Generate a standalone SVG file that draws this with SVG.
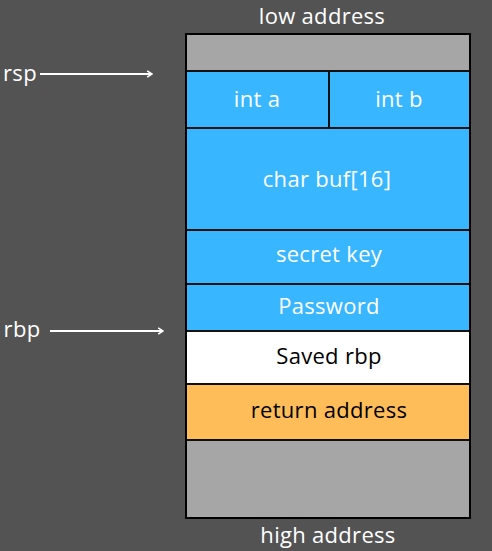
<svg xmlns="http://www.w3.org/2000/svg" width="492" height="551" viewBox="0 0 492 551">
<style>
text{font-family:"Open Sans","Liberation Sans",sans-serif;font-size:22px;font-weight:500;letter-spacing:0.3px;text-anchor:middle}
.w{fill:#ffffff}
.k{fill:#000000}
.cell{stroke:#111;stroke-width:2}
.conn{stroke:#ffffff;stroke-width:2;fill:none}
</style>
<defs>
<marker id="ah" viewBox="0 0 10 10" refX="9" refY="5" markerWidth="8" markerHeight="9" orient="auto" markerUnits="userSpaceOnUse">
<path d="M3,1 L9,5 L3,9" fill="none" stroke="#fff" stroke-width="2"/>
</marker>
</defs>
<rect width="492" height="551" fill="#535353"/>
<text class="w" x="322" y="24" font-size="20.5">low address</text>
<text class="w" x="328" y="543">high address</text>
<g id="top-gray"><rect class="cell" x="186" y="34" width="284" height="37" fill="#a6a6a6"/></g>
<g id="int-a"><rect class="cell" x="186" y="71" width="143" height="57" fill="#38b6ff"/><text class="w" x="257" y="107">int a</text></g>
<g id="int-b"><rect class="cell" x="329" y="71" width="141" height="57" fill="#38b6ff"/><text class="w" x="399" y="107">int b</text></g>
<g id="char-buf"><rect class="cell" x="186" y="128" width="284" height="102" fill="#38b6ff"/><text class="w" x="327" y="187">char buf[16]</text></g>
<g id="secret-key"><rect class="cell" x="186" y="230" width="284" height="54" fill="#38b6ff"/><text class="w" x="329" y="262">secret key</text></g>
<g id="password"><rect class="cell" x="186" y="284" width="284" height="47" fill="#38b6ff"/><text class="w" x="329" y="314">Password</text></g>
<g id="saved-rbp"><rect class="cell" x="186" y="331" width="284" height="53" fill="#ffffff" stroke="#555"/><text class="k" x="329" y="364">Saved rbp</text></g>
<g id="return-address"><rect class="cell" x="186" y="384" width="284" height="56" fill="#ffbd59"/><text class="k" x="329" y="418">return address</text></g>
<g id="bottom-gray"><rect class="cell" x="186" y="440" width="284" height="78" fill="#a6a6a6"/></g>
<rect x="186" y="34" width="284" height="484" fill="none" stroke="#000" stroke-width="2"/>
<g id="rsp"><text class="w" x="20" y="81">rsp</text></g>
<g id="rbp"><text class="w" x="22" y="337">rbp</text></g>
<g id="connectors">
<line class="conn" x1="40" y1="74" x2="152" y2="74" marker-end="url(#ah)"/>
<line class="conn" x1="50" y1="331" x2="163" y2="331" marker-end="url(#ah)"/>
</g>
</svg>
